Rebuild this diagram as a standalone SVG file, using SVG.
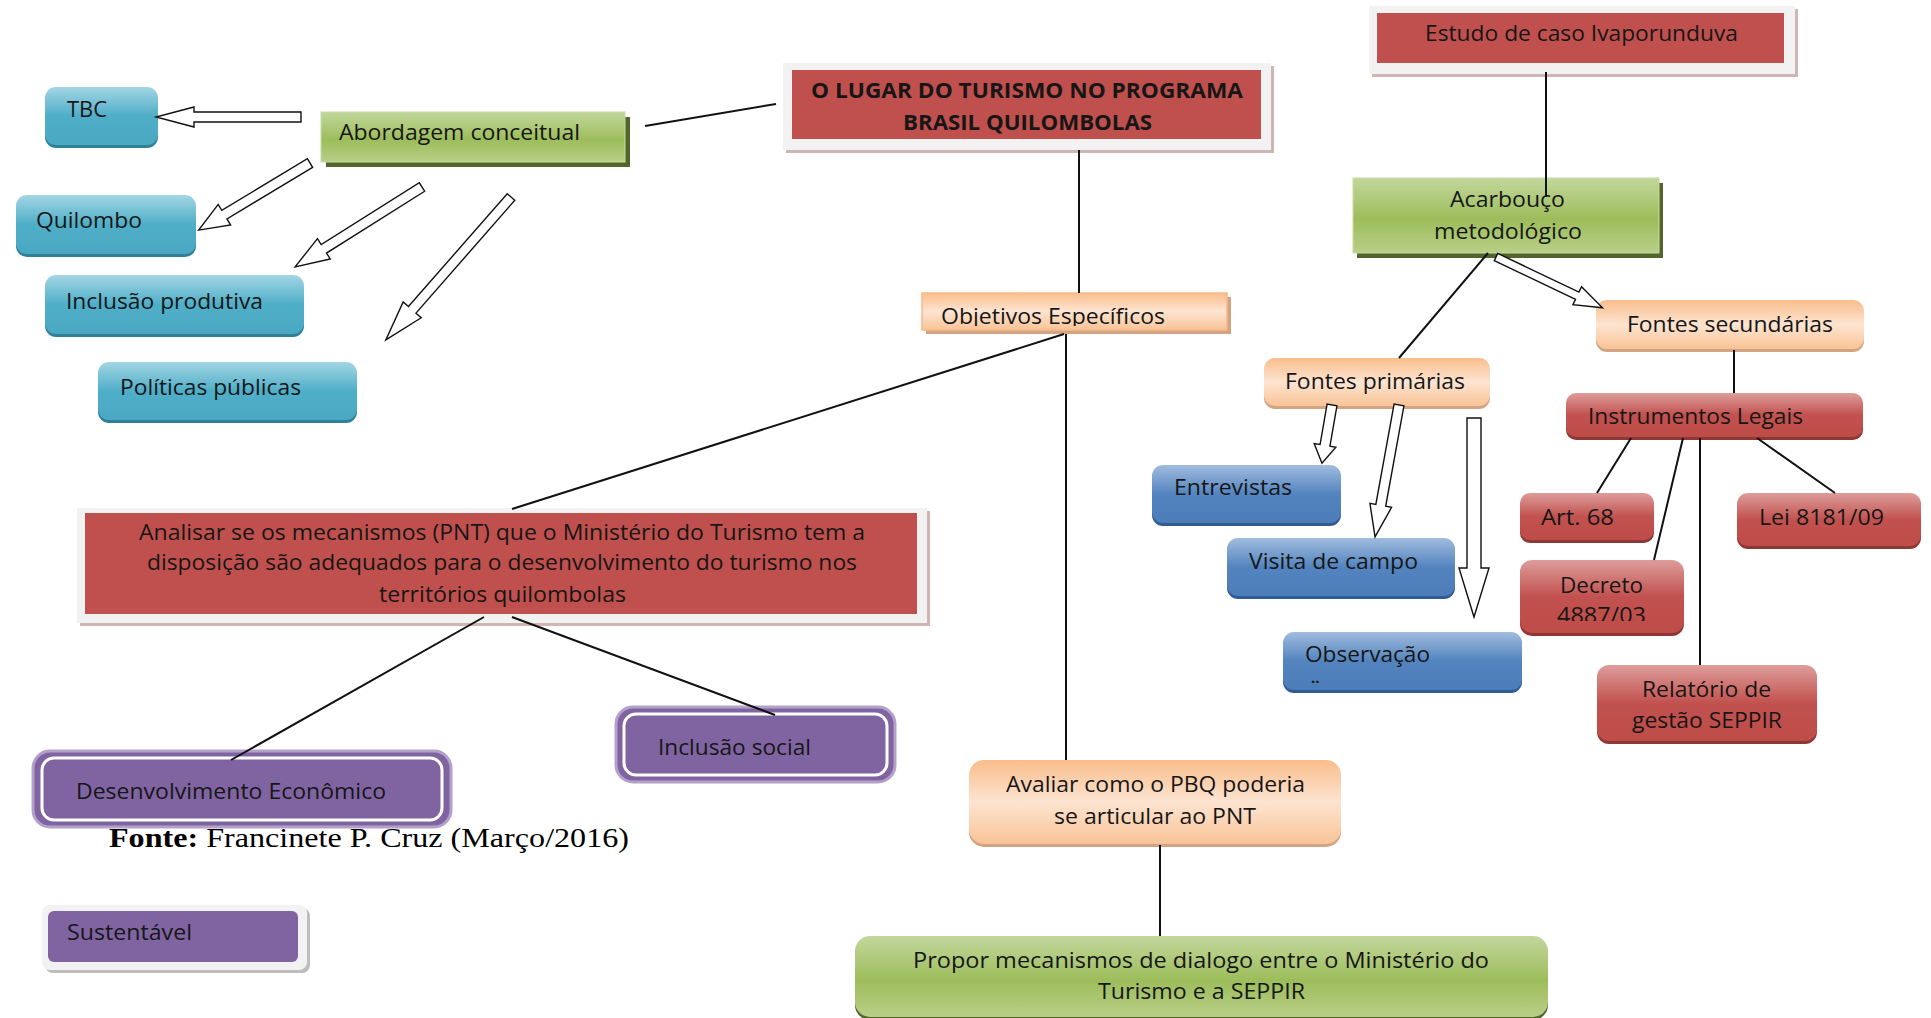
<svg xmlns="http://www.w3.org/2000/svg" width="1931" height="1018" viewBox="0 0 1931 1018">
<defs>
<linearGradient id="gLB" x1="0" y1="0" x2="0" y2="1"><stop offset="0" stop-color="#A3D6E4"/><stop offset="0.5" stop-color="#4FAEC8"/><stop offset="1" stop-color="#4BA8C2"/></linearGradient>
<linearGradient id="gDB" x1="0" y1="0" x2="0" y2="1"><stop offset="0" stop-color="#A1BCDE"/><stop offset="0.5" stop-color="#5384BF"/><stop offset="1" stop-color="#4C7DB8"/></linearGradient>
<linearGradient id="gR" x1="0" y1="0" x2="0" y2="1"><stop offset="0" stop-color="#DD9D9B"/><stop offset="0.5" stop-color="#C2524F"/><stop offset="1" stop-color="#BE4C49"/></linearGradient>
<linearGradient id="gG" x1="0" y1="0" x2="0" y2="1"><stop offset="0" stop-color="#C2D79C"/><stop offset="0.55" stop-color="#9DBD5B"/><stop offset="1" stop-color="#B8CF88"/></linearGradient>
<linearGradient id="gP" x1="0" y1="0" x2="0" y2="1"><stop offset="0" stop-color="#F9BD8B"/><stop offset="0.5" stop-color="#FDE4D1"/><stop offset="1" stop-color="#F9C396"/></linearGradient>
<clipPath id="cObj"><rect x="900" y="290" width="340" height="36"/></clipPath>
<clipPath id="cDec"><rect x="1520" y="560" width="170" height="61"/></clipPath>
</defs>
<style>
text{font-family:"Open Sans","Liberation Sans",sans-serif;font-size:21px;fill:#161616}
.b{font-weight:bold}
.ln{stroke:#111;stroke-width:2;fill:none}
.ba{fill:#fff;stroke:#111;stroke-width:1.4}
.lb{fill:url(#gLB)}
.db{fill:url(#gDB)}
.rd{fill:url(#gR)}
.gr{fill:url(#gG)}
.pc{fill:url(#gP)}
.sh-lb{fill:#2F8199}
.sh-db{fill:#2F5C92}
.sh-rd{fill:#8E3836}
.sh-gr{fill:#52652A}
.sh-pc{fill:#D3A481}
.frame{fill:#F2F2F2}
.fsh{fill:#CFB6B5}
.red{fill:#C0504D}
.pu{fill:#8064A2}
.pu-o{fill:#8064A2;stroke:#B3A1CA;stroke-width:3}
.pu-i{fill:#8064A2;stroke:#fff;stroke-width:3}
.fonte{font-family:"Liberation Serif","Times New Roman",serif;font-size:27px;fill:#000}
</style>

<g id="n-lugar">
<rect class="fsh" x="786" y="66" width="488" height="87"/>
<rect class="frame" x="783" y="63" width="488" height="87"/>
<rect class="red" x="792" y="70" width="469" height="69"/>
<text class="b" x="811" y="98" textLength="432" lengthAdjust="spacingAndGlyphs">O LUGAR DO TURISMO NO PROGRAMA</text>
<text class="b" x="903" y="130" textLength="249" lengthAdjust="spacingAndGlyphs">BRASIL QUILOMBOLAS</text>
</g>

<g id="n-abordagem">
<rect class="sh-gr" x="326" y="117" width="304" height="50"/>
<rect class="gr" x="321" y="112" width="304" height="50" stroke="#C8DBA4" stroke-width="1"/>
<text x="339" y="140" textLength="241" lengthAdjust="spacingAndGlyphs">Abordagem conceitual</text>
</g>

<g id="n-tbc">
<rect class="sh-lb" x="45" y="90" width="113" height="58" rx="11"/>
<rect class="lb" x="45" y="87" width="113" height="58" rx="11"/>
<text x="67" y="117" textLength="40" lengthAdjust="spacingAndGlyphs">TBC</text>
</g>

<g id="n-quilombo">
<rect class="sh-lb" x="16" y="198" width="180" height="59" rx="11"/>
<rect class="lb" x="16" y="195" width="180" height="59" rx="11"/>
<text x="36" y="228" textLength="106" lengthAdjust="spacingAndGlyphs">Quilombo</text>
</g>

<g id="n-inclusao-produtiva">
<rect class="sh-lb" x="45" y="278" width="259" height="59" rx="11"/>
<rect class="lb" x="45" y="275" width="259" height="59" rx="11"/>
<text x="66" y="309" textLength="197" lengthAdjust="spacingAndGlyphs">Inclusão produtiva</text>
</g>

<g id="n-politicas">
<rect class="sh-lb" x="98" y="365" width="259" height="58" rx="11"/>
<rect class="lb" x="98" y="362" width="259" height="58" rx="11"/>
<text x="120" y="395" textLength="181" lengthAdjust="spacingAndGlyphs">Políticas públicas</text>
</g>

<g id="n-objetivos">
<rect class="sh-pc" x="926" y="297" width="305" height="37"/>
<rect class="pc" x="922" y="293" width="305" height="37" stroke="#F7B98A" stroke-width="1.5"/>
<text x="941" y="324" textLength="224" lengthAdjust="spacingAndGlyphs" clip-path="url(#cObj)">Objetivos Específicos</text>
</g>

<g id="n-estudo">
<rect class="fsh" x="1372" y="9" width="426" height="68"/>
<rect class="frame" x="1369" y="6" width="426" height="68"/>
<rect class="red" x="1377" y="13" width="407" height="50"/>
<text x="1425" y="41" textLength="313" lengthAdjust="spacingAndGlyphs">Estudo de caso Ivaporunduva</text>
</g>

<g id="n-acarbouco">
<rect class="sh-gr" x="1357" y="183" width="306" height="75"/>
<rect class="gr" x="1353" y="178" width="306" height="75" stroke="#C8DBA4" stroke-width="1"/>
<text x="1450" y="207" textLength="115" lengthAdjust="spacingAndGlyphs">Acarbouço</text>
<text x="1434" y="239" textLength="148" lengthAdjust="spacingAndGlyphs">metodológico</text>
</g>

<g id="n-fontes-sec">
<rect class="sh-pc" x="1596" y="303" width="268" height="49" rx="11"/>
<rect class="pc" x="1596" y="300" width="268" height="49" rx="11"/>
<text x="1627" y="332" textLength="206" lengthAdjust="spacingAndGlyphs">Fontes secundárias</text>
</g>

<g id="n-fontes-prim">
<rect class="sh-pc" x="1264" y="361" width="226" height="48" rx="11"/>
<rect class="pc" x="1264" y="358" width="226" height="48" rx="11"/>
<text x="1285" y="389" textLength="180" lengthAdjust="spacingAndGlyphs">Fontes primárias</text>
</g>

<g id="n-instrumentos">
<rect class="sh-rd" x="1566" y="396" width="297" height="44" rx="10"/>
<rect class="rd" x="1566" y="393" width="297" height="44" rx="10"/>
<text x="1588" y="424" textLength="215" lengthAdjust="spacingAndGlyphs">Instrumentos Legais</text>
</g>

<g id="n-entrevistas">
<rect class="sh-db" x="1152" y="468" width="189" height="58" rx="11"/>
<rect class="db" x="1152" y="465" width="189" height="58" rx="11"/>
<text x="1174" y="495" textLength="118" lengthAdjust="spacingAndGlyphs">Entrevistas</text>
</g>

<g id="n-visita">
<rect class="sh-db" x="1227" y="541" width="228" height="58" rx="11"/>
<rect class="db" x="1227" y="538" width="228" height="58" rx="11"/>
<text x="1249" y="569" textLength="169" lengthAdjust="spacingAndGlyphs">Visita de campo</text>
</g>

<g id="n-observacao">
<rect class="sh-db" x="1283" y="635" width="239" height="58" rx="11"/>
<rect class="db" x="1283" y="632" width="239" height="58" rx="11"/>
<text x="1305" y="662" textLength="125" lengthAdjust="spacingAndGlyphs">Observação</text>
<text x="1311" y="683" style="font-size:15px;font-weight:bold">..</text>
</g>

<g id="n-art68">
<rect class="sh-rd" x="1520" y="496" width="134" height="47" rx="10"/>
<rect class="rd" x="1520" y="493" width="134" height="47" rx="10"/>
<text x="1541" y="525" textLength="73" lengthAdjust="spacingAndGlyphs">Art. 68</text>
</g>

<g id="n-lei">
<rect class="sh-rd" x="1737" y="496" width="184" height="53" rx="11"/>
<rect class="rd" x="1737" y="493" width="184" height="53" rx="11"/>
<text x="1759" y="525" textLength="125" lengthAdjust="spacingAndGlyphs">Lei 8181/09</text>
</g>

<g id="n-decreto">
<rect class="sh-rd" x="1520" y="563" width="164" height="73" rx="12"/>
<rect class="rd" x="1520" y="560" width="164" height="73" rx="12"/>
<text x="1560" y="593" textLength="83" lengthAdjust="spacingAndGlyphs">Decreto</text>
<text x="1557" y="623" textLength="89" lengthAdjust="spacingAndGlyphs" clip-path="url(#cDec)">4887/03</text>
</g>

<g id="n-relatorio">
<rect class="sh-rd" x="1597" y="668" width="220" height="76" rx="12"/>
<rect class="rd" x="1597" y="665" width="220" height="76" rx="12"/>
<text x="1642" y="697" textLength="129" lengthAdjust="spacingAndGlyphs">Relatório de</text>
<text x="1632" y="728" textLength="150" lengthAdjust="spacingAndGlyphs">gestão SEPPIR</text>
</g>

<g id="n-analisar">
<rect class="fsh" x="80" y="511" width="850" height="115"/>
<rect class="frame" x="77" y="508" width="850" height="115"/>
<rect class="red" x="85" y="513" width="832" height="101"/>
<text x="139" y="540" textLength="726" lengthAdjust="spacingAndGlyphs">Analisar se os mecanismos (PNT) que o Ministério do Turismo tem a</text>
<text x="147" y="570" textLength="710" lengthAdjust="spacingAndGlyphs">disposição são adequados para o desenvolvimento do turismo nos</text>
<text x="379" y="602" textLength="247" lengthAdjust="spacingAndGlyphs">territórios quilombolas</text>
</g>

<g id="n-inclusao-social">
<rect class="pu-o" x="616" y="707" width="279" height="75" rx="17"/>
<rect class="pu-i" x="624" y="714" width="263" height="61" rx="12"/>
<text x="658" y="755" textLength="153" lengthAdjust="spacingAndGlyphs">Inclusão social</text>
</g>

<g id="n-desenvolvimento">
<rect class="pu-o" x="33" y="751" width="418" height="76" rx="17"/>
<rect class="pu-i" x="42" y="758" width="400" height="62" rx="12"/>
<text x="76" y="799" textLength="310" lengthAdjust="spacingAndGlyphs">Desenvolvimento Econômico</text>
</g>

<g id="fonte">
<text class="fonte" x="109" y="847" textLength="520" lengthAdjust="spacingAndGlyphs"><tspan font-weight="bold">Fonte:</tspan> Francinete P. Cruz (Março/2016)</text>
</g>

<g id="n-sustentavel">
<rect x="45" y="908" width="265" height="65" rx="8" fill="#BDBDBD"/>
<rect class="frame" x="42" y="905" width="265" height="65" rx="8"/>
<rect class="pu" x="48" y="911" width="250" height="51" rx="6"/>
<text x="67" y="940" textLength="125" lengthAdjust="spacingAndGlyphs">Sustentável</text>
</g>

<g id="n-avaliar">
<rect class="sh-pc" x="969" y="763" width="372" height="84" rx="15"/>
<rect class="pc" x="969" y="760" width="372" height="84" rx="15"/>
<text x="1006" y="792" textLength="299" lengthAdjust="spacingAndGlyphs">Avaliar como o PBQ poderia</text>
<text x="1054" y="824" textLength="202" lengthAdjust="spacingAndGlyphs">se articular ao PNT</text>
</g>

<g id="n-propor">
<rect class="sh-gr" x="855" y="939" width="693" height="81" rx="15"/>
<rect class="gr" x="855" y="936" width="693" height="81" rx="15"/>
<text x="913" y="968" textLength="576" lengthAdjust="spacingAndGlyphs">Propor mecanismos de dialogo entre o Ministério do</text>
<text x="1098" y="999" textLength="207" lengthAdjust="spacingAndGlyphs">Turismo e a SEPPIR</text>
</g>

<g id="connectors">
<line class="ln" x1="645" y1="126" x2="776" y2="104"/>
<line class="ln" x1="1079" y1="150" x2="1079" y2="293"/>
<line class="ln" x1="1064" y1="334" x2="512" y2="509"/>
<line class="ln" x1="1066" y1="334" x2="1066" y2="760"/>
<line class="ln" x1="1160" y1="845" x2="1160" y2="936"/>
<line class="ln" x1="484" y1="617" x2="231" y2="760"/>
<line class="ln" x1="512" y1="617" x2="775" y2="715"/>
<line class="ln" x1="1546" y1="72" x2="1546" y2="197"/>
<line class="ln" x1="1488" y1="253" x2="1399" y2="358"/>
<line class="ln" x1="1734" y1="350" x2="1734" y2="393"/>
<line class="ln" x1="1631" y1="438" x2="1597" y2="493"/>
<line class="ln" x1="1683" y1="438" x2="1654" y2="560"/>
<line class="ln" x1="1700" y1="438" x2="1700" y2="665"/>
<line class="ln" x1="1757" y1="438" x2="1835" y2="493"/>
<path class="ba" transform="translate(301,117) rotate(180)" d="M0,-5 H107 V-10 L145,0 L107,10 V5 H0 Z"/>
<path class="ba" transform="translate(310,163) rotate(148.9)" d="M0,-5 H100 V-12 L130,0 L100,12 V5 H0 Z"/>
<path class="ba" transform="translate(422,187) rotate(147.8)" d="M0,-5 H116 V-12 L150,0 L116,12 V5 H0 Z"/>
<path class="ba" transform="translate(511,197) rotate(131.2)" d="M0,-5 H150 V-12 L190,0 L150,12 V5 H0 Z"/>
<path class="ba" transform="translate(1496,257) rotate(25.5)" d="M0,-4 H90 V-10 L118,0 L90,10 V4 H0 Z"/>
<path class="ba" transform="translate(1332,405) rotate(99.8)" d="M0,-5 H41 V-11 L59,0 L41,11 V5 H0 Z"/>
<path class="ba" transform="translate(1399,405) rotate(100.3)" d="M0,-5 H102 V-11 L134,0 L102,11 V5 H0 Z"/>
<path class="ba" transform="translate(1474,418) rotate(90)" d="M0,-7 H150 V-15 L199,0 L150,15 V7 H0 Z"/>
</g>
</svg>
